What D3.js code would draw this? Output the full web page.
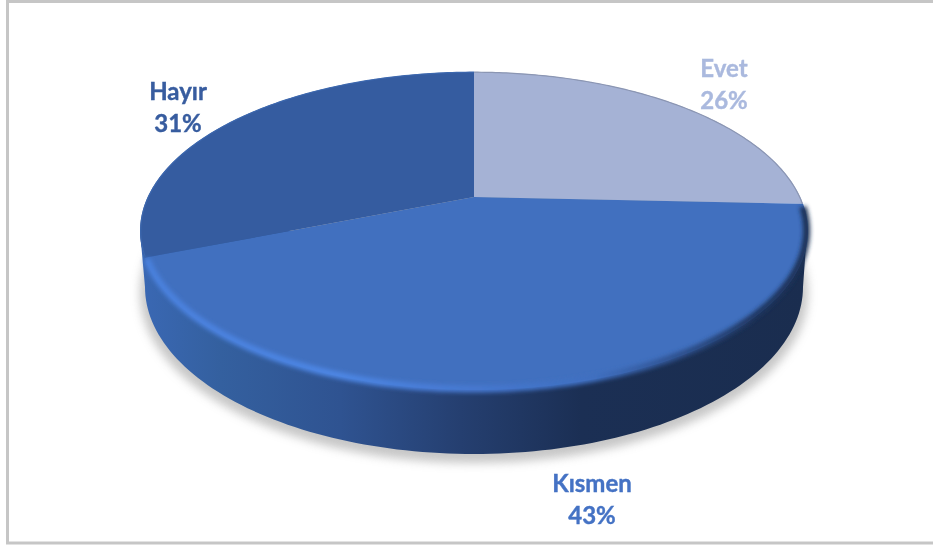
<!DOCTYPE html>
<html>
<head>
<meta charset="utf-8">
<script src="https://cdn.jsdelivr.net/npm/d3@7"></script>
<style>
  html, body { margin: 0; padding: 0; background: #fff; }
  svg { display: block; }
</style>
</head>
<body>
<div id="chart"></div>
<script>
const categories = ["Evet", "Kısmen", "Hayır"];
const values = [25.7, 43.3, 31];
const sliceColors = ["#a5b2d5", "#4170bf", "#355ca0"];
const labelColors = ["#aab9de", "#4472c4", "#375c9f"];
const rimColors = ["#8b96b3", "url(#rimGrad)", "#3c67ae"];
const labelPos = [[724, 77], [592, 492], [178, 100]];

const width = 933, height = 546;

// tilted disc: circle seen in perspective, so the pie centre sits above the ellipse centre
const cx = 474, cy = 197;
const backR = 125, frontR = 193, maxRx = 334;
const p = (frontR / backR - 1) / (frontR / backR + 1);
const B = backR * (1 + p);
const A = maxRx * Math.sqrt(1 - p * p);
const topCy = (cy - backR + cy + frontR) / 2;

const project = (a, k = 1) => {
  const u = k * Math.sin(a), v = k * Math.cos(a), w = 1 + p * v;
  return [cx + (A * u) / w, cy - (B * v) / w];
};

const arcPoints = (a0, a1, k = 1) =>
  d3.range(0, 121).map((i) => project(a0 + ((a1 - a0) * i) / 120, k));

const line = d3.line();

const svg = d3.select("#chart").append("svg").attr("width", width).attr("height", height);
const defs = svg.append("defs");

defs.append("filter").attr("id", "shadowBlur")
  .attr("x", "-10%").attr("y", "-10%").attr("width", "120%").attr("height", "120%")
  .append("feGaussianBlur").attr("stdDeviation", 5);
defs.append("filter").attr("id", "rimBlur")
  .attr("x", "-5%").attr("y", "-5%").attr("width", "110%").attr("height", "110%")
  .append("feGaussianBlur").attr("stdDeviation", 2.2);
defs.append("filter").attr("id", "thinBlur")
  .attr("x", "-5%").attr("y", "-5%").attr("width", "110%").attr("height", "110%")
  .append("feGaussianBlur").attr("stdDeviation", 0.7);
defs.append("filter").attr("id", "softText")
  .append("feGaussianBlur").attr("stdDeviation", 0.4);

const wallGrad = defs.append("linearGradient").attr("id", "wallGrad")
  .attr("gradientUnits", "userSpaceOnUse").attr("x1", 140).attr("x2", 808).attr("y1", 0).attr("y2", 0);
[[0, "#3a68b4"], [0.12, "#34609f"], [0.3, "#2f5391"], [0.48, "#253f70"], [0.66, "#1b2f54"], [1, "#1a2d4f"]]
  .forEach(([o, c]) => wallGrad.append("stop").attr("offset", o).attr("stop-color", c));

const rimGrad = defs.append("linearGradient").attr("id", "rimGrad")
  .attr("gradientUnits", "userSpaceOnUse").attr("x1", 140).attr("x2", 808).attr("y1", 0).attr("y2", 0);
[[0, "#4a80dc"], [0.3, "#4d86e4"], [0.5, "#4678d0"], [0.68, "#3f6fc0"], [0.8, "#2f5290"], [0.92, "#1f3660"], [1, "#1c3055"]]
  .forEach(([o, c]) => rimGrad.append("stop").attr("offset", o).attr("stop-color", c));

// frame: the picture is cropped, so only the left, top and bottom lines show
svg.append("rect").attr("x", 7.5).attr("y", 1.5).attr("width", width + 10).attr("height", 541.5)
  .attr("fill", "#fff").attr("stroke", "#c6c6c6").attr("stroke-width", 3);

// drop shadow
const botCy = 287, botRx = 329, botRy = 167;
svg.append("ellipse").attr("cx", cx).attr("cy", botCy + 6).attr("rx", botRx + 5).attr("ry", botRy + 3)
  .attr("fill", "#b4b4b4").attr("opacity", 0.75).attr("filter", "url(#shadowBlur)");

// side wall
const wallPts = d3.range(0, 121).map((i) => {
  const t = Math.PI * (i / 120);
  return [cx + botRx * Math.cos(t), botCy + botRy * Math.sin(t)];
});
const wallPath = line([[cx + maxRx - 1, topCy], ...wallPts, [cx - maxRx, topCy]]) + "Z";
svg.append("path").attr("d", wallPath).attr("fill", "url(#wallGrad)");

// slices
const pie = d3.pie().sort(null).value((d) => d);
const slices = pie(values);

svg.append("g").selectAll("path").data(slices).enter().append("path")
  .attr("d", (d) => line([[cx, cy], ...arcPoints(d.startAngle, d.endAngle)]) + "Z")
  .attr("fill", (d) => sliceColors[d.index]);

// bevel along the outer edge of each slice, the front one is wide and soft
svg.append("g").selectAll("path").data(slices).enter().append("path")
  .attr("d", (d) => line(arcPoints(d.startAngle + (d.index == 1 ? 0.02 : 0), d.endAngle - (d.index == 1 ? 0.01 : 0), d.index == 1 ? 0.996 : 0.998)))
  .attr("fill", "none")
  .attr("stroke", (d) => rimColors[d.index])
  .attr("stroke-width", (d) => (d.index == 1 ? 7 : 1.2))
  .attr("filter", (d) => (d.index == 1 ? "url(#rimBlur)" : "url(#thinBlur)"));

// labels
const labels = svg.append("g").selectAll("text").data(slices).enter().append("text")
  .attr("transform", (d) => `translate(${labelPos[d.index]})`)
  .attr("text-anchor", "middle")
  .attr("font-family", "Lato, 'Open Sans', sans-serif")
  .attr("font-weight", 700)
  .attr("font-size", "24px")
  .attr("fill", (d) => labelColors[d.index])
  .attr("stroke", (d) => labelColors[d.index])
  .attr("stroke-width", 0.4)
  .attr("filter", "url(#softText)");
labels.append("tspan").attr("x", 0).attr("y", 0).text((d) => categories[d.index]);
labels.append("tspan").attr("x", 0).attr("y", 32).text((d) => `${Math.round(d.value)}%`);
</script>
</body>
</html>
